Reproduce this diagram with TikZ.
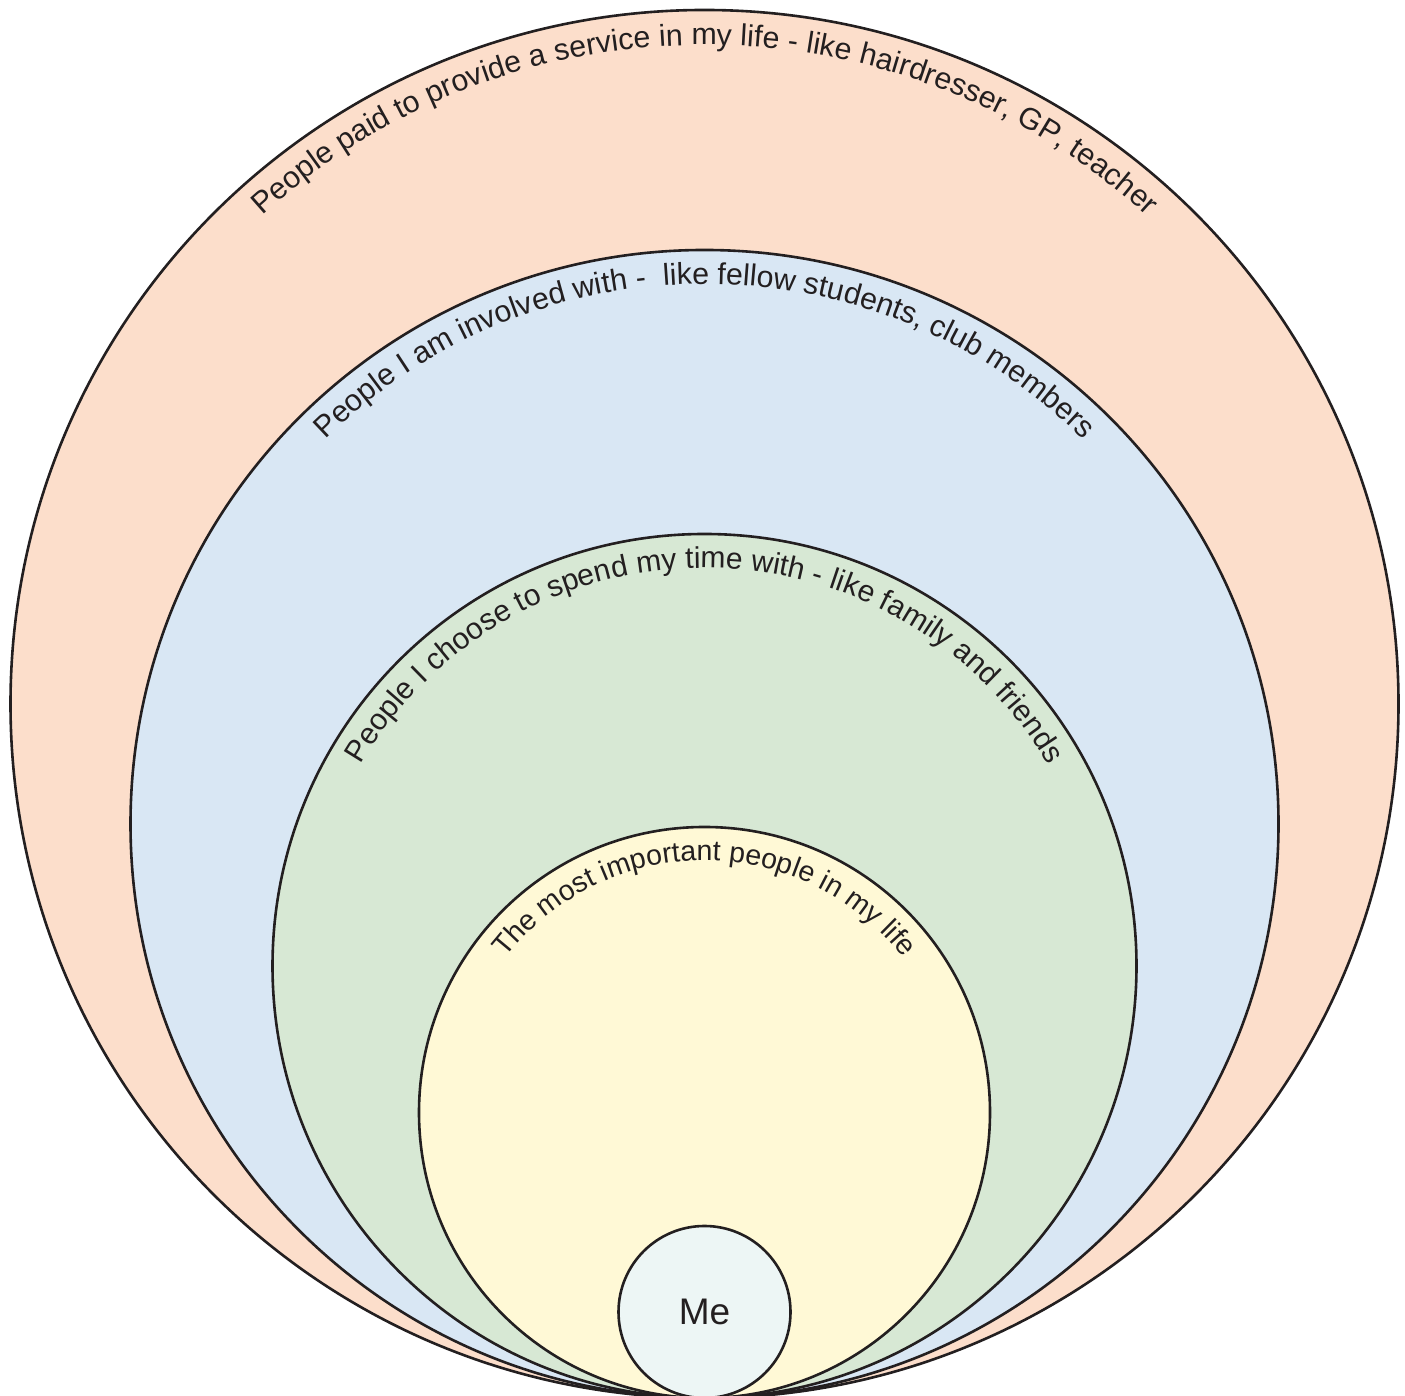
\documentclass[tikz,border=0pt]{standalone}
\usepackage{fontspec}
\setmainfont{Liberation Sans}
\usetikzlibrary{decorations.text}
\definecolor{txt}{RGB}{35,31,32}
\definecolor{peach}{RGB}{252,222,203}
\definecolor{lblue}{RGB}{217,231,244}
\definecolor{lgreen}{RGB}{215,232,212}
\definecolor{lyellow}{RGB}{255,249,214}
\definecolor{lme}{RGB}{237,246,245}
\tikzset{
  ring/.style={circle, draw=txt, line width=2.6pt, inner sep=0pt, outer sep=0pt},
  arctext/.style 2 args={decorate, decoration={text along path, text align=center,
     text={|\fontsize{#1}{36}\selectfont\color{txt}|#2}}}
}
\begin{document}
\begin{tikzpicture}
\useasboundingbox (0pt,0pt) rectangle (1405pt,1396pt);
\coordinate (c1) at (704.5pt,692pt);
\coordinate (c2) at (704.5pt,572pt);
\coordinate (c3) at (704.5pt,430pt);
\coordinate (c4) at (704.5pt,283.5pt);
\coordinate (c5) at (704.5pt,84pt);
\node[ring, fill=peach,   minimum size=1388pt] (outer)  at (c1) {};
\node[ring, fill=lblue,   minimum size=1148pt] (blue)   at (c2) {};
\node[ring, fill=lgreen,  minimum size=864pt]  (green)  at (c3) {};
\node[ring, fill=lyellow, minimum size=571pt]  (yellow) at (c4) {};
\node[ring, fill=lme,     minimum size=172pt, font=\fontsize{37}{44}\selectfont, text=txt] (me) at (c5) {Me};
\path[arctext={30.3}{People paid to provide a service in my life - like hairdresser, GP, teacher}]
  (c1) ++(180:659pt) arc[start angle=180, end angle=0, radius=659pt];
\path[arctext={30.3}{People I am involved with -{\ } like fellow students, club members}]
  (c2) ++(180:540pt) arc[start angle=180, end angle=0, radius=540pt];
\path[arctext={30}{People I choose to spend my time with - like family and friends}]
  (c3) ++(180:398pt) arc[start angle=180, end angle=0, radius=398pt];
\path[arctext={28.5}{The most important people in my life}]
  (c4) ++(180:252pt) arc[start angle=180, end angle=0, radius=252pt];
\end{tikzpicture}
\end{document}
